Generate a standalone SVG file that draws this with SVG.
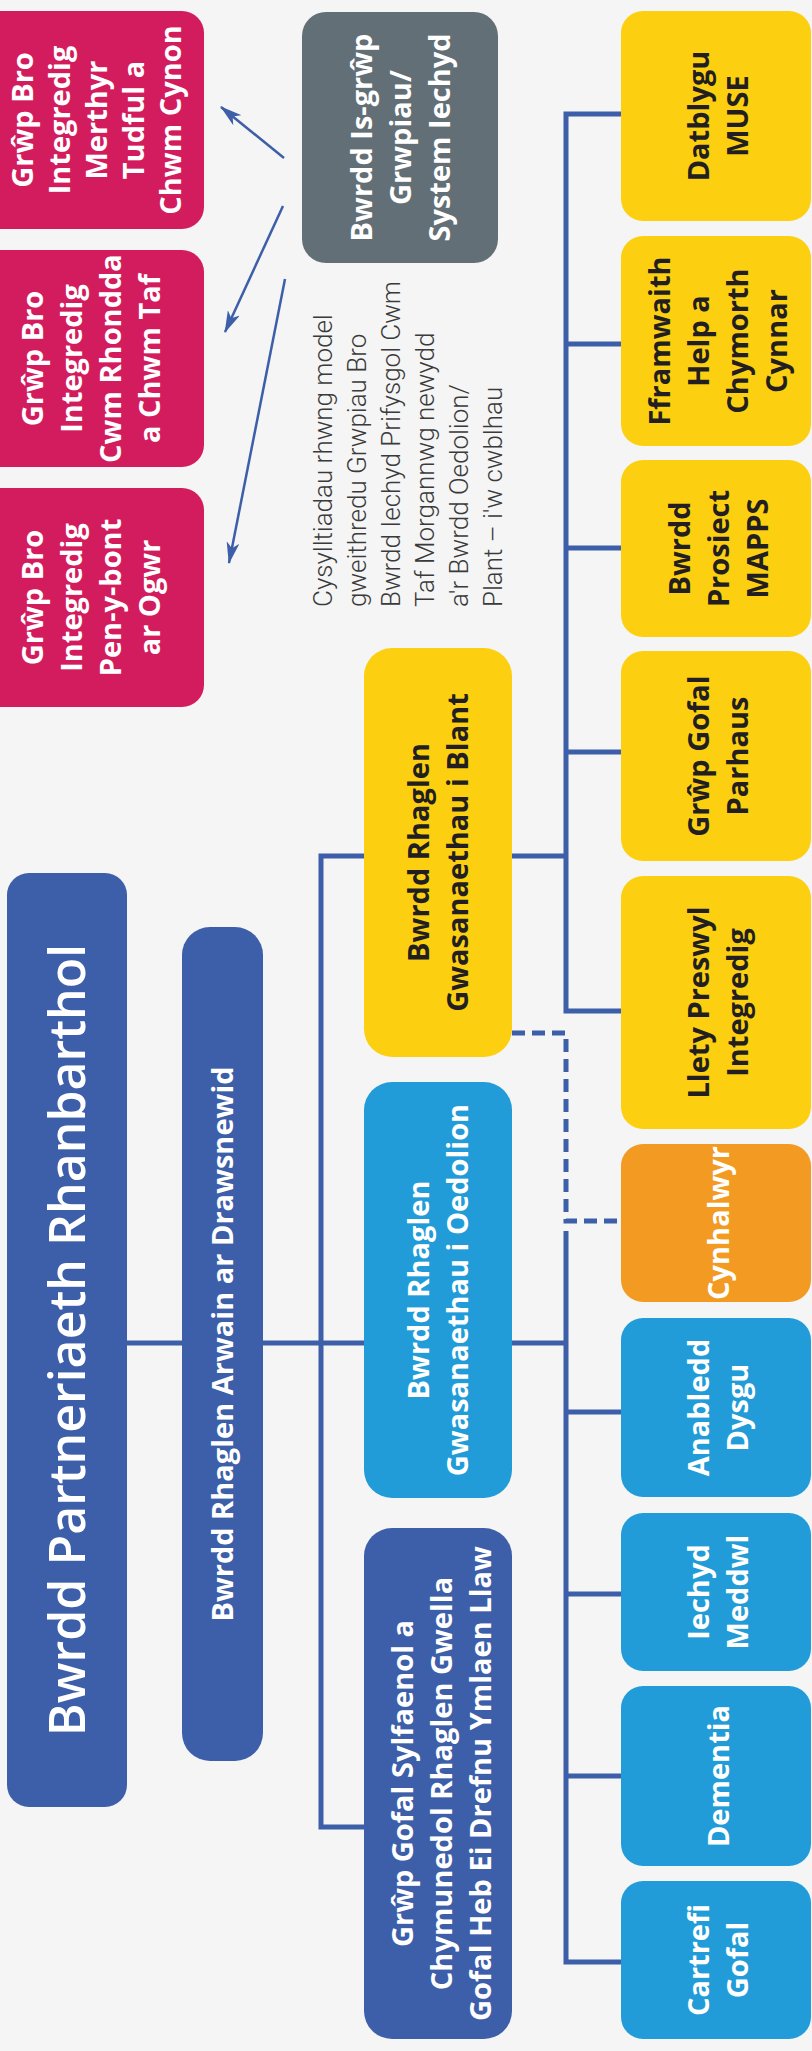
<svg xmlns="http://www.w3.org/2000/svg" width="812" height="2051" viewBox="0 0 812 2051">
<defs>
<style>
.bg{fill:#F4F5F4}
.pink{fill:#D31C5D}
.gray{fill:#636F77}
.dblue{fill:#3D5EA8}
.lblue{fill:#219CD8}
.yellow{fill:#FCD011}
.orange{fill:#F29A21}
.t{font-family:"Open Sans","Liberation Sans",sans-serif;font-weight:700;font-size:29px;text-anchor:middle}
.w{fill:#FFFFFF}
.k{fill:#231F20}
.title{font-family:"Open Sans","Liberation Sans",sans-serif;font-weight:600;font-size:50px;text-anchor:middle;fill:#FFFFFF}
.para{font-family:Roboto,"Open Sans","Liberation Sans",sans-serif;font-weight:300;font-size:26px;fill:#3A3A3A}
.conn{fill:none;stroke:#3D5EA8;stroke-width:5}
.dash{fill:none;stroke:#3D5EA8;stroke-width:5;stroke-dasharray:13 7}
.arrow{fill:none;stroke:#3D5EA8;stroke-width:2.5}
</style>
<marker id="ah" viewBox="0 0 22 13" refX="21" refY="6.5" markerWidth="22" markerHeight="13" markerUnits="userSpaceOnUse" orient="auto">
<path d="M0,0 L22,6.5 L0,13 L6,6.5 Z" fill="#3D5EA8"/>
</marker>
</defs>
<rect class="bg" x="0" y="0" width="812" height="2051"/>

<g id="connectors">
<path class="conn" d="M127,1343 H566"/>
<path class="conn" d="M364,1827 H321 V856 H566"/>
<path class="conn" d="M621,114 H566 V1011 H621 M566,344 H621 M566,548 H621 M566,752 H621"/>
<path class="conn" d="M566,1231 V1962 H621 M566,1412 H621 M566,1594 H621 M566,1776 H621"/>
<path class="dash" d="M512,1033 H566 V1221 H621"/>
<path class="arrow" marker-end="url(#ah)" d="M284,158 L221,107"/>
<path class="arrow" marker-end="url(#ah)" d="M283,206 L225,332"/>
<path class="arrow" marker-end="url(#ah)" d="M285,279 L229,563"/>
</g>

<g id="pink1">
<rect class="pink" x="-30" y="11" width="234" height="218" rx="22"/>
<text class="t w" transform="translate(96,120) rotate(-90)"><tspan x="0" y="-63.5">Grŵp Bro</tspan><tspan x="0" y="-26.5">Integredig</tspan><tspan x="0" y="10.5">Merthyr</tspan><tspan x="0" y="47.5">Tudful a</tspan><tspan x="0" y="84.5">Chwm Cynon</tspan></text>
</g>
<g id="pink2">
<rect class="pink" x="-30" y="250" width="234" height="217" rx="22"/>
<text class="t w" transform="translate(91,358.5) rotate(-90)"><tspan x="0" y="-48">Grŵp Bro</tspan><tspan x="0" y="-9">Integredig</tspan><tspan x="0" y="30">Cwm Rhondda</tspan><tspan x="0" y="69">a Chwm Taf</tspan></text>
</g>
<g id="pink3">
<rect class="pink" x="-30" y="488" width="234" height="219" rx="22"/>
<text class="t w" transform="translate(91,597.5) rotate(-90)"><tspan x="0" y="-48">Grŵp Bro</tspan><tspan x="0" y="-9">Integredig</tspan><tspan x="0" y="30">Pen-y-bont</tspan><tspan x="0" y="69">ar Ogwr</tspan></text>
</g>

<g id="system">
<rect class="gray" x="302" y="12" width="196" height="251" rx="24"/>
<text class="t w" transform="translate(400,137.5) rotate(-90)"><tspan x="0" y="-28.5">Bwrdd Is-grŵp</tspan><tspan x="0" y="10.5">Grwpiau/</tspan><tspan x="0" y="49.5">System Iechyd</tspan></text>
</g>

<g id="note">
<text class="para" transform="translate(0,607) rotate(-90)"><tspan x="0" y="332">Cysylltiadau rhwng model</tspan><tspan x="0" y="366">gweithredu Grwpiau Bro</tspan><tspan x="0" y="400">Bwrdd Iechyd Prifysgol Cwm</tspan><tspan x="0" y="434">Taf Morgannwg newydd</tspan><tspan x="0" y="468">a'r Bwrdd Oedolion/</tspan><tspan x="0" y="502">Plant – i'w cwblhau</tspan></text>
</g>

<g id="main">
<rect class="dblue" x="7" y="873" width="120" height="934" rx="22"/>
<text class="title" transform="translate(67,1340) rotate(-90)"><tspan x="0" y="18">Bwrdd Partneriaeth Rhanbarthol</tspan></text>
</g>
<g id="arwain">
<rect class="dblue" x="182" y="927" width="81" height="834" rx="28"/>
<text class="t w" transform="translate(222.5,1344) rotate(-90)"><tspan x="0" y="10">Bwrdd Rhaglen Arwain ar Drawsnewid</tspan></text>
</g>

<g id="plant">
<rect class="yellow" x="364" y="648" width="148" height="409" rx="28"/>
<text class="t k" transform="translate(438,852.5) rotate(-90)"><tspan x="0" y="-9">Bwrdd Rhaglen</tspan><tspan x="0" y="30">Gwasanaethau i Blant</tspan></text>
</g>
<g id="oedolion">
<rect class="lblue" x="364" y="1082" width="148" height="416" rx="28"/>
<text class="t w" transform="translate(438,1290) rotate(-90)"><tspan x="0" y="-9">Bwrdd Rhaglen</tspan><tspan x="0" y="30">Gwasanaethau i Oedolion</tspan></text>
</g>
<g id="sylfaenol">
<rect class="dblue" x="364" y="1528" width="148" height="511" rx="28"/>
<text class="t w" transform="translate(441,1783.5) rotate(-90)"><tspan x="0" y="-28.5">Grŵp Gofal Sylfaenol a</tspan><tspan x="0" y="10.5">Chymunedol Rhaglen Gwella</tspan><tspan x="0" y="49.5">Gofal Heb Ei Drefnu Ymlaen Llaw</tspan></text>
</g>

<g id="muse">
<rect class="yellow" x="621" y="11" width="190" height="210" rx="22"/>
<text class="t k" transform="translate(718,116) rotate(-90)"><tspan x="0" y="-9">Datblygu</tspan><tspan x="0" y="30">MUSE</tspan></text>
</g>
<g id="fframwaith">
<rect class="yellow" x="621" y="236" width="190" height="210" rx="22"/>
<text class="t k" transform="translate(718,341) rotate(-90)"><tspan x="0" y="-48">Fframwaith</tspan><tspan x="0" y="-9">Help a</tspan><tspan x="0" y="30">Chymorth</tspan><tspan x="0" y="69">Cynnar</tspan></text>
</g>
<g id="mapps">
<rect class="yellow" x="621" y="460" width="190" height="177" rx="22"/>
<text class="t k" transform="translate(718,548.5) rotate(-90)"><tspan x="0" y="-28.5">Bwrdd</tspan><tspan x="0" y="10.5">Prosiect</tspan><tspan x="0" y="49.5">MAPPS</tspan></text>
</g>
<g id="parhaus">
<rect class="yellow" x="621" y="651" width="190" height="210" rx="22"/>
<text class="t k" transform="translate(718,756) rotate(-90)"><tspan x="0" y="-9">Grŵp Gofal</tspan><tspan x="0" y="30">Parhaus</tspan></text>
</g>
<g id="llety">
<rect class="yellow" x="621" y="876" width="190" height="253" rx="22"/>
<text class="t k" transform="translate(718,1002.5) rotate(-90)"><tspan x="0" y="-9">Llety Preswyl</tspan><tspan x="0" y="30">Integredig</tspan></text>
</g>
<g id="cynhalwyr">
<rect class="orange" x="621" y="1144" width="190" height="158" rx="22"/>
<text class="t w" transform="translate(718,1223) rotate(-90)"><tspan x="0" y="10.5">Cynhalwyr</tspan></text>
</g>
<g id="anabledd">
<rect class="lblue" x="621" y="1318" width="190" height="179" rx="22"/>
<text class="t w" transform="translate(718,1407.5) rotate(-90)"><tspan x="0" y="-9">Anabledd</tspan><tspan x="0" y="30">Dysgu</tspan></text>
</g>
<g id="iechyd">
<rect class="lblue" x="621" y="1513" width="190" height="158" rx="22"/>
<text class="t w" transform="translate(718,1592) rotate(-90)"><tspan x="0" y="-9">Iechyd</tspan><tspan x="0" y="30">Meddwl</tspan></text>
</g>
<g id="dementia">
<rect class="lblue" x="621" y="1686" width="190" height="180" rx="22"/>
<text class="t w" transform="translate(718,1776) rotate(-90)"><tspan x="0" y="10.5">Dementia</tspan></text>
</g>
<g id="cartrefi">
<rect class="lblue" x="621" y="1881" width="190" height="158" rx="22"/>
<text class="t w" transform="translate(718,1960) rotate(-90)"><tspan x="0" y="-9">Cartrefi</tspan><tspan x="0" y="30">Gofal</tspan></text>
</g>
</svg>
